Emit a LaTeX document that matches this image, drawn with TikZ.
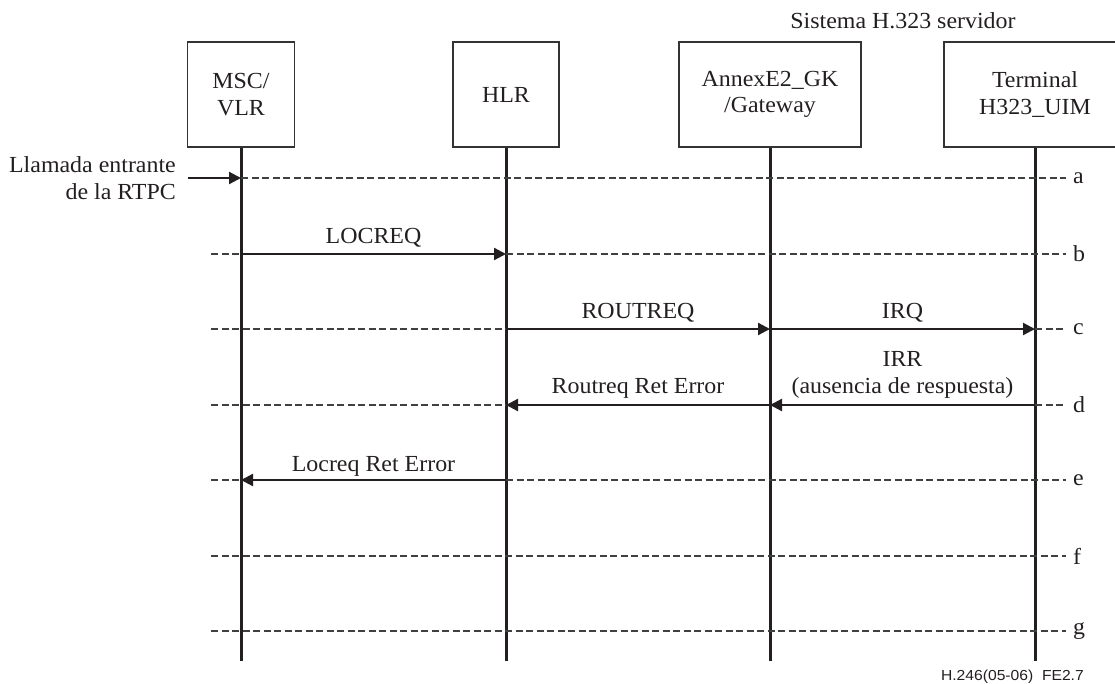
\documentclass[tikz,border=0pt]{standalone}
\usepackage{fontspec}
\setmainfont{Liberation Serif}[FakeStretch=1.04]
\newfontfamily\footfont{Liberation Sans}[FakeStretch=1.08]
\usetikzlibrary{arrows.meta}
\definecolor{ink}{HTML}{231F20}
\definecolor{boxgray}{HTML}{333333}
\definecolor{dashgray}{HTML}{404040}
\begin{document}
\begin{tikzpicture}[x=1pt,y=-1pt,
  txt/.style={inner sep=0pt, text=ink, font=\fontsize{23}{26.5}\selectfont},
  ent/.style={txt, draw=boxgray, line width=1.1pt, minimum height=105pt, align=center},
  life/.style={ink, line width=3pt},
  msg/.style={ink, line width=2.2pt, -{Triangle[length=12pt,width=12pt]}},
  guide/.style={dashgray, line width=1.3pt, dash pattern=on 7pt off 3.5pt},
  lbl/.style={txt, anchor=base},
  letter/.style={txt, anchor=west}]
\useasboundingbox (0,0) rectangle (1115,683);
\clip (0,0) rectangle (1115,683);

% entities
\node[ent, minimum width=107pt] (msc) at (241,94.5) {MSC/\\VLR};
\node[ent, minimum width=106pt] (hlr) at (506,94.5) {HLR};
\node[ent, minimum width=182pt] (gk)  at (770,94.5) {AnnexE2\_GK\\/Gateway};
\node[ent, minimum width=182pt] (term) at (1035,94.5) {Terminal\\H323\_UIM};
\node[lbl] (sys) at (903,28) {Sistema H.323 servidor};

% lifelines
\coordinate (bot) at (0,661);
\draw[life] (msc.south) -- (msc |- bot);
\draw[life] (hlr.south) -- (hlr |- bot);
\draw[life] (gk.south) -- (gk |- bot);
\draw[life] (term.south) -- (term |- bot);

% row ends
\foreach \r/\y in {a/178,b/254,c/329,d/405,e/480,f/556,g/631}{
  \coordinate (L\r) at (211,\y);
  \coordinate (R\r) at (1066,\y);
  \node[letter] (let\r) at (1073,\y) {\r};
}

% row a
\coordinate (in) at (188,178);
\node[txt, anchor=east, align=right] (intxt) at (176,178) {Llamada entrante\\de la RTPC};
\draw[guide] (msc |- La) -- (Ra);
\draw[msg] (in) -- (msc |- La);

% row b
\draw[guide] (Lb) -- (msc |- Lb);
\draw[guide] (hlr |- Lb) -- (Rb);
\draw[msg] (msc |- Lb) -- node[lbl, yshift=11pt] {LOCREQ} (hlr |- Lb);

% row c
\draw[guide] (Lc) -- (hlr |- Lc);
\draw[guide] (term |- Lc) -- (Rc);
\draw[msg] (hlr |- Lc) -- node[lbl, yshift=11pt] {ROUTREQ} (gk |- Lc);
\draw[msg] (gk |- Lc) -- node[lbl, yshift=11pt] {IRQ} (term |- Lc);

% row d
\draw[guide] (Ld) -- (hlr |- Ld);
\draw[guide] (term |- Ld) -- (Rd);
\draw[msg] (gk |- Ld) -- node[lbl, yshift=12pt] {Routreq Ret Error} (hlr |- Ld);
\draw[msg] (term |- Ld) -- node[txt, align=center, anchor=south, yshift=6pt] {IRR\\(ausencia de respuesta)} (gk |- Ld);

% row e
\draw[guide] (Le) -- (msc |- Le);
\draw[guide] (hlr |- Le) -- (Re);
\draw[msg] (hlr |- Le) -- node[lbl, yshift=8.5pt] {Locreq Ret Error} (msc |- Le);

% rows f, g
\draw[guide] (Lf) -- (Rf);
\draw[guide] (Lg) -- (Rg);

% footnote
\node[inner sep=0pt, anchor=base east, text=ink, font=\footfont\fontsize{14.5}{17}\selectfont] (fn) at (1084,680) {H.246(05-06)\ \ FE2.7};
\end{tikzpicture}
\end{document}
